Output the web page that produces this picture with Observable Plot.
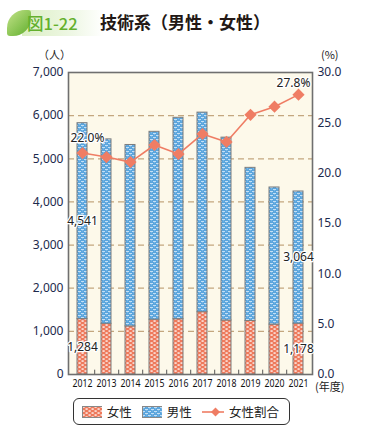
<!DOCTYPE html>
<html><head><meta charset="utf-8">
<script src="https://cdn.jsdelivr.net/npm/d3@7"></script>
<script src="https://cdn.jsdelivr.net/npm/@observablehq/plot@0.6"></script>
<style>
body{margin:0;background:#fff;font-family:"Noto Sans CJK JP","Noto Sans",sans-serif;}
#wrap{position:relative;width:380px;height:440px;overflow:hidden;}
.abs{position:absolute;white-space:nowrap;}
#leaf{left:7px;top:10px;width:24px;height:26px;border-radius:18px 3px 18px 3px;background:linear-gradient(135deg,#c4e38a,#5fae2c);}
#band{left:22px;top:10px;width:82px;height:26px;background:linear-gradient(90deg,#dcefc4,#eef7e4 60%,#ffffff);}
#fig{left:27px;top:9px;font-size:16.5px;color:#63b02c;font-family:"Noto Sans CJK JP",sans-serif;font-weight:500;line-height:28px;}
#title{left:100px;top:8px;font-size:17px;font-weight:700;color:#231815;line-height:28px;}
#unitL{left:38px;top:47px;font-size:11px;line-height:14px;color:#222;}
#unitR{left:321px;top:47px;font-size:11px;line-height:14px;color:#222;}
#nendo{left:315px;top:379px;font-size:11px;line-height:14px;color:#222;}
#chart{left:0;top:50px;}
#legend{left:73px;top:398px;width:215px;height:25px;border:1px solid #333;border-radius:6px;display:flex;align-items:center;font-size:12.5px;color:#222;}
#legend span{margin-right:10px;}
</style></head>
<body>
<svg width="0" height="0" style="position:absolute">
<defs>
<pattern id="pf" width="6" height="4" patternUnits="userSpaceOnUse">
<rect width="6" height="4" fill="#ee7a5c"/>
<rect x="0.5" y="0.4" width="2.2" height="1.3" fill="#fff"/>
<rect x="3.5" y="2.4" width="2.2" height="1.3" fill="#fff"/>
</pattern>
<pattern id="pm" width="6" height="4" patternUnits="userSpaceOnUse">
<rect width="6" height="4" fill="#5aa5dd"/>
<rect x="0" y="1" width="3" height="0.9" fill="#cfe6f8"/>
<rect x="3" y="3" width="3" height="0.9" fill="#cfe6f8"/>
<rect x="4" y="0.5" width="1" height="0.7" fill="#9ccbef"/>
<rect x="1" y="2.5" width="1" height="0.7" fill="#9ccbef"/>
</pattern>
</defs>
</svg>
<div id="wrap">
<div class="abs" id="band"></div>
<div class="abs" id="leaf"></div>
<div class="abs" id="fig">図1-22</div>
<div class="abs" id="title">技術系（男性・女性）</div>
<div class="abs" id="unitL">（人）</div>
<div class="abs" id="unitR">(%)</div>
<div class="abs" id="chart"></div>
<div class="abs" id="nendo">(年度)</div>
<div class="abs" id="legend">
<svg width="24" height="12" style="margin-left:8px;margin-right:5px"><rect x="0.5" y="0.5" width="23" height="11" fill="url(#pf)" stroke="#888"/></svg><span>女性</span>
<svg width="24" height="12" style="margin-right:5px"><rect x="0.5" y="0.5" width="23" height="11" fill="url(#pm)" stroke="#888"/></svg><span>男性</span>
<svg width="27" height="12" style="margin-right:5px"><line x1="0" y1="6" x2="27" y2="6" stroke="#ef7d64" stroke-width="1.6"/><path d="M13.5 1.5 L18 6 L13.5 10.5 L9 6Z" fill="#ef7d64"/></svg><span>女性割合</span>
</div>
</div>
<script>
const years = [2012,2013,2014,2015,2016,2017,2018,2019,2020,2021];
const female = [1284,1175,1115,1270,1282,1445,1252,1240,1157,1178];
const male = [4541,4275,4205,4355,4668,4625,4238,3550,3178,3064];
const ratio = [22.0,21.6,21.1,22.8,21.9,23.9,23.1,25.8,26.6,27.8];
const yTicks = [0,1000,2000,3000,4000,5000,6000,7000];
const rightLabels = ["0.0","5.0","10.0","15.0","20.0","25.0","30.0"];
const gridTicks = [1000,2000,3000,4000,5000,6000];
const yMax = 7000, pMax = 30;

const rows = [];
years.forEach((y,i)=>{rows.push({year:y,sex:"女性",value:female[i]});});
years.forEach((y,i)=>{rows.push({year:y,sex:"男性",value:male[i]});});
const lineData = years.map((y,i)=>({year:y,ratio:ratio[i]}));
const first = 0, last = years.length-1;
const valueLabels = [
  {year:years[first],v:female[first],mid:female[first]/2},
  {year:years[first],v:male[first],mid:female[first]+male[first]/2},
  {year:years[last],v:female[last],mid:female[last]/2},
  {year:years[last],v:male[last],mid:female[last]+male[last]/2}
];
const pctLabels = [
  {year:years[first],ratio:ratio[first]},
  {year:years[last],ratio:ratio[last]}
];
const toY = p => p*yMax/pMax;
const navy = "#1d2a4d";

const plot = Plot.plot({
  width:380, height:345,
  marginTop:22, marginBottom:21, marginLeft:68, marginRight:68,
  style:{fontFamily:"'Noto Sans','Noto Sans CJK JP',sans-serif",fontSize:"12px",background:"transparent",overflow:"visible"},
  x:{type:"band",domain:years,paddingInner:0.58,paddingOuter:0.29},
  y:{domain:[0,yMax]},
  color:{domain:["女性","男性"],range:["url(#pf)","url(#pm)"]},
  marks:[
    Plot.frame({fill:"#fdf9ea",stroke:null}),
    Plot.ruleY(gridTicks,{stroke:"#c4a77f",strokeWidth:1.3,strokeDasharray:"6,4"}),
    Plot.barY(rows,{x:"year",y:"value",fill:"sex",stroke:"#7d7d7d",strokeWidth:1}),
    Plot.ruleX(years.slice(0,-1),{x:d=>d,dx:12.2,y1:0,y2:100,stroke:"#555",strokeWidth:1}),
    Plot.frame({stroke:"#6f6f6f",strokeWidth:1.6}),
    Plot.axisY({anchor:"left",ticks:yTicks,tickSize:0,tickPadding:5,tickFormat:d3.format(","),fill:navy,fontSize:12,label:null}),
    Plot.axisY({anchor:"right",ticks:rightLabels.map(s=>toY(+s)),tickSize:0,tickPadding:5,tickFormat:d=>(d*pMax/yMax).toFixed(1),fill:navy,fontSize:12,label:null}),
    Plot.axisX({tickSize:0,tickPadding:5,tickFormat:d=>String(d),fill:"#111",fontSize:11,label:null}),
    Plot.line(lineData,{x:"year",y:d=>toY(d.ratio),stroke:"#ef7d64",strokeWidth:1.6}),
    Plot.dot(lineData,{x:"year",y:d=>toY(d.ratio),symbol:"diamond2",fill:"#ef7d64",stroke:null,r:5.5}),
    Plot.text(valueLabels,{x:"year",y:"mid",text:d=>d3.format(",")(d.v),fill:"#222",stroke:"white",strokeWidth:2.5,fontSize:12}),
    Plot.text(pctLabels,{x:"year",y:d=>toY(d.ratio),text:d=>d.ratio.toFixed(1)+"%",dx:5,dy:-15,fill:"#222",stroke:"white",strokeWidth:2.5,fontSize:12,filter:(d,i)=>i===0}),
    Plot.text(pctLabels,{x:"year",y:d=>toY(d.ratio),text:d=>d.ratio.toFixed(1)+"%",dx:-5,dy:-11,fill:"#222",stroke:"white",strokeWidth:2.5,fontSize:12,filter:(d,i)=>i===1})
  ]
});
// condense the year labels to fit, as in the reference
plot.querySelectorAll('g[aria-label="x-axis tick label"] text').forEach(t=>{
  t.setAttribute("textLength","20");
  t.setAttribute("lengthAdjust","spacingAndGlyphs");
});
document.getElementById("chart").appendChild(plot);
</script>
</body></html>
